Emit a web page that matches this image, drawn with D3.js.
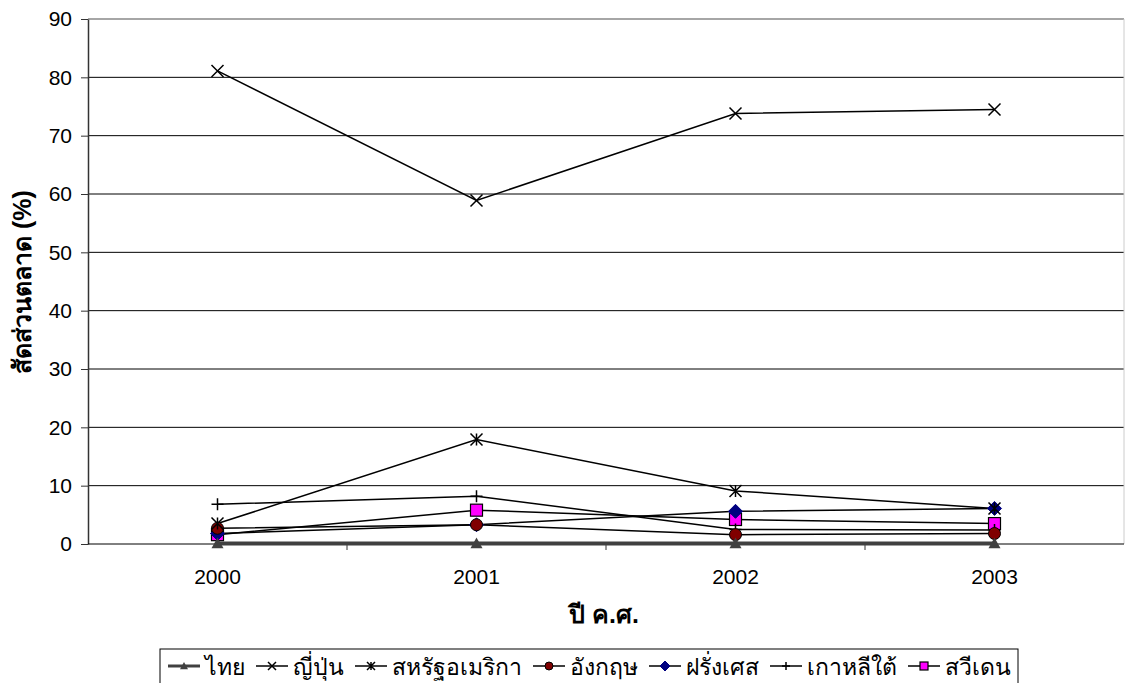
<!DOCTYPE html>
<html>
<head>
<meta charset="utf-8">
<script src="https://cdn.jsdelivr.net/npm/d3@7"></script>
<style>
  body { margin: 0; background: #fff; }
  svg { display: block; font-family: "Liberation Sans", Arial, sans-serif; }
</style>
</head>
<body>
<div id="chart"></div>
<script>
// data
const years = ["2000", "2001", "2002", "2003"];
const thai = [0.1, 0.1, 0.1, 0.1];
const japan = [81.1, 58.9, 73.8, 74.5];
const usa = [3.5, 17.9, 9.1, 6.1];
const uk = [2.7, 3.3, 1.6, 1.8];
const france = [1.8, 3.3, 5.6, 6.1];
const korea = [6.8, 8.2, 2.5, 2.4];
const sweden = [1.6, 5.8, 4.2, 3.5];
const yTicks = [0, 10, 20, 30, 40, 50, 60, 70, 80, 90];

const series = [
  {name: "ไทย", values: thai, marker: "triangle", stroke: "#404040", width: 4, fill: "#404040"},
  {name: "ญี่ปุ่น", values: japan, marker: "x", stroke: "#000", width: 1.5, fill: "none"},
  {name: "สหรัฐอเมริกา", values: usa, marker: "star", stroke: "#000", width: 1.5, fill: "none"},
  {name: "อังกฤษ", values: uk, marker: "circle", stroke: "#000", width: 1.5, fill: "#800000"},
  {name: "ฝรั่งเศส", values: france, marker: "diamond", stroke: "#000", width: 1.5, fill: "#000080"},
  {name: "เกาหลีใต้", values: korea, marker: "plus", stroke: "#000", width: 1.5, fill: "none"},
  {name: "สวีเดน", values: sweden, marker: "square", stroke: "#000", width: 1.5, fill: "#ff00ff"}
];

const W = 1125, H = 683;
const margin = {top: 19, left: 88, right: 1, bottom: 139};
const width = W - margin.left - margin.right;
const height = H - margin.top - margin.bottom;

const svg = d3.select("#chart").append("svg")
  .attr("width", W).attr("height", H);

const chart = svg.append("g")
  .attr("transform", `translate(${margin.left},${margin.top})`);

const x = d3.scaleBand().domain(years).range([0, width]);
const y = d3.scaleLinear().domain([0, 90]).range([height, 0]);

// gridlines
chart.append("g").selectAll("line")
  .data(yTicks.filter(d => d > 0))
  .enter().append("line")
  .attr("x1", 0).attr("x2", width)
  .attr("y1", d => y(d)).attr("y2", d => y(d))
  .attr("stroke", d => d === 90 ? "#888" : "#000")
  .attr("stroke-width", d => d === 90 ? 1.5 : 1);

// right border
chart.append("line")
  .attr("x1", width).attr("x2", width)
  .attr("y1", 0).attr("y2", height)
  .attr("stroke", "#ccc");

// y axis
const yAxis = chart.append("g")
  .call(d3.axisLeft(y).tickValues(yTicks).tickSize(7).tickSizeOuter(0).tickPadding(9));
yAxis.select(".domain").attr("stroke", "#333").attr("stroke-width", 1.5);
yAxis.selectAll(".tick line").attr("stroke", "#333");
yAxis.selectAll("text").attr("font-size", 21).attr("fill", "#000")
  .attr("font-family", "Liberation Sans, Arial, sans-serif");

// x axis with ticks between categories
const xAxisG = chart.append("g").attr("transform", `translate(0,${height})`);
xAxisG.append("line").attr("x1", 0).attr("x2", width)
  .attr("stroke", "#000").attr("stroke-width", 1);
xAxisG.selectAll(".xt")
  .data(years.slice(1))
  .enter().append("line")
  .attr("x1", d => x(d)).attr("x2", d => x(d))
  .attr("y1", 0).attr("y2", 6)
  .attr("stroke", "#333");
xAxisG.selectAll(".xl")
  .data(years)
  .enter().append("text")
  .attr("x", d => x(d) + x.bandwidth() / 2)
  .attr("y", 40)
  .attr("text-anchor", "middle")
  .attr("font-size", 21)
  .text(d => d);

// axis titles
svg.append("text")
  .attr("x", 604).attr("y", 623)
  .attr("text-anchor", "middle")
  .attr("font-size", 25).attr("font-weight", "bold")
  .text("ปี ค.ศ.");
svg.append("text")
  .attr("transform", `translate(31,282) rotate(-90)`)
  .attr("text-anchor", "middle")
  .attr("font-size", 25).attr("font-weight", "bold")
  .text("สัดส่วนตลาด (%)");

function drawMarker(g, type, s, fill) {
  if (type === "triangle") {
    g.append("path").attr("d", `M0,${-s}L${s},${s * 0.8}L${-s},${s * 0.8}Z`).attr("fill", fill);
  } else if (type === "x") {
    g.append("path").attr("d", `M${-s},${-s}L${s},${s}M${-s},${s}L${s},${-s}`)
      .attr("stroke", "#000").attr("stroke-width", 1.5).attr("fill", "none");
  } else if (type === "star") {
    g.append("path").attr("d", `M${-s},${-s}L${s},${s}M${-s},${s}L${s},${-s}M0,${-s}L0,${s}`)
      .attr("stroke", "#000").attr("stroke-width", 1.5).attr("fill", "none");
  } else if (type === "circle") {
    g.append("circle").attr("r", s).attr("fill", fill).attr("stroke", "#000");
  } else if (type === "diamond") {
    g.append("path").attr("d", `M0,${-s - 1}L${s + 1},0L0,${s + 1}L${-s - 1},0Z`).attr("fill", fill).attr("stroke", "#000080");
  } else if (type === "plus") {
    g.append("path").attr("d", `M${-s},0L${s},0M0,${-s}L0,${s}`)
      .attr("stroke", "#000").attr("stroke-width", 1.5).attr("fill", "none");
  } else if (type === "square") {
    g.append("rect").attr("x", -s).attr("y", -s).attr("width", 2 * s).attr("height", 2 * s)
      .attr("fill", fill).attr("stroke", "#000").attr("stroke-width", 1.2);
  }
}

const line = d3.line()
  .x((d, i) => x(years[i]) + x.bandwidth() / 2)
  .y(d => y(d));

// draw lines (reverse so Thai sits on top like the original)
series.slice().reverse().forEach(s => {
  chart.append("path")
    .attr("d", line(s.values))
    .attr("fill", "none")
    .attr("stroke", s.stroke)
    .attr("stroke-width", s.width);
});
series.slice().reverse().forEach(s => {
  s.values.forEach((v, i) => {
    const g = chart.append("g")
      .attr("transform", `translate(${x(years[i]) + x.bandwidth() / 2},${y(v)})`);
    drawMarker(g, s.marker, 6, s.fill);
  });
});

// legend
const legend = svg.append("g").attr("transform", "translate(160,649)");
const legBox = legend.append("rect").attr("y", 0).attr("height", 44)
  .attr("fill", "#fff").attr("stroke", "#000");
let lx = 8;
series.forEach(s => {
  const item = legend.append("g").attr("transform", `translate(${lx},17)`);
  item.append("line").attr("x1", 0).attr("x2", 32)
    .attr("stroke", s.stroke).attr("stroke-width", s.width === 4 ? 3 : 1.5);
  const mg = item.append("g").attr("transform", "translate(16,0)");
  drawMarker(mg, s.marker, 4, s.fill);
  const t = item.append("text").attr("x", 37).attr("y", 9)
    .attr("font-size", 23).text(s.name);
  lx += 37 + t.node().getComputedTextLength() + 11;
});
legBox.attr("width", lx - 4);
</script>
</body>
</html>
